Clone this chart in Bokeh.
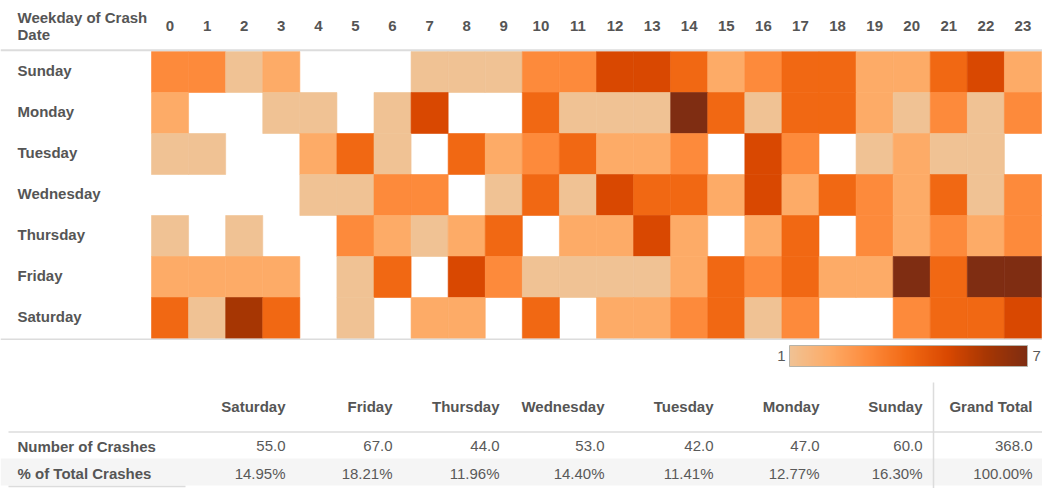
import numpy as np
from bokeh.plotting import figure
from bokeh.layouts import column
from bokeh.models import Range1d, ColumnDataSource, LinearColorMapper, Span
from bokeh.transform import linear_cmap
from bokeh.core.properties import value
from bokeh.embed import file_html
from bokeh.resources import INLINE

# ---------------- data ----------------
hours = list(range(24))
days = ["Sunday", "Monday", "Tuesday", "Wednesday", "Thursday", "Friday", "Saturday"]
header_lines = ["Weekday of Crash", "Date"]

# number of crashes per hour of day (0 = no crashes)
sunday    = [3, 3, 1, 2, 0, 0, 0, 1, 1, 1, 3, 3, 5, 5, 4, 2, 3, 4, 4, 2, 2, 4, 5, 2]
monday    = [2, 0, 0, 1, 1, 0, 1, 5, 0, 0, 4, 1, 1, 1, 7, 4, 1, 4, 4, 2, 1, 3, 1, 3]
tuesday   = [1, 1, 0, 0, 2, 4, 1, 0, 4, 2, 3, 4, 2, 2, 3, 0, 5, 3, 0, 1, 2, 1, 1, 0]
wednesday = [0, 0, 0, 0, 1, 1, 3, 3, 0, 1, 4, 1, 5, 4, 4, 2, 5, 2, 4, 3, 2, 4, 1, 3]
thursday  = [1, 0, 1, 0, 0, 3, 2, 1, 2, 4, 0, 2, 2, 5, 2, 0, 2, 4, 0, 3, 2, 3, 2, 3]
friday    = [2, 2, 2, 2, 0, 1, 4, 0, 5, 3, 1, 1, 1, 1, 2, 4, 3, 4, 2, 2, 7, 4, 7, 7]
saturday  = [4, 1, 6, 4, 0, 1, 0, 2, 2, 0, 4, 0, 2, 2, 3, 4, 1, 3, 0, 0, 3, 4, 4, 5]

level_colors = ["#F0C294", "#FDAB67", "#FD8A3B", "#F16813", "#D94801", "#A63603", "#7F2D12"]
legend_low, legend_high = 1, 7

table_cols = ["Saturday", "Friday", "Thursday", "Wednesday", "Tuesday", "Monday", "Sunday", "Grand Total"]
crashes = [55.0, 67.0, 44.0, 53.0, 42.0, 47.0, 60.0, 368.0]
pct_total = [14.95, 18.21, 11.96, 14.40, 11.41, 12.77, 16.30, 100.00]
row_labels = ["Number of Crashes", "% of Total Crashes"]

# ---------------- styling / layout ----------------
FONT = value("Liberation Sans")
BOLD_C = "#555555"
REG_C = "#595959"
LINE_C = "#dcdcdc"
FS = "15px"

W = 1042
H1 = 341
H2 = 488 - H1
LEFT = 151
CW = (1041 - LEFT) / 24
TOP = 51
RH = 41

x0 = -0.5 - LEFT / CW
p1 = figure(width=W, height=H1,
            x_range=Range1d(x0, 23.5 + 1 / CW),
            y_range=Range1d((H1 - TOP) / RH - 0.5, -0.5 - TOP / RH),
            x_axis_location=None, y_axis_location=None,
            output_backend="svg", toolbar_location=None,
            min_border=0, outline_line_color=None)
p1.grid.visible = False

rows = [sunday, monday, tuesday, wednesday, thursday, friday, saturday]
xs, ys, ns = [], [], []
for di, row in enumerate(rows):
    for h, n in zip(hours, row):
        if n > 0:
            xs.append(h)
            ys.append(di)
            ns.append(n)
src = ColumnDataSource(dict(hour=xs, day=ys, n=ns))
cmap = linear_cmap("n", level_colors, 0.5, 7.5)
p1.rect(x="hour", y="day", width=1, height=1, source=src,
        fill_color=cmap, line_color=cmap, line_width=0.6)

p1.add_layout(Span(location=-0.5 - 1.3 / RH, dimension="width",
                   line_color=LINE_C, line_width=2))
p1.add_layout(Span(location=6.5 + 0.8 / RH, dimension="width",
                   line_color=LINE_C, line_width=1.5))

lab_x = x0 + 17 / CW
p1.text(x=hours, y=[-0.5 - 26 / RH] * 24, text=[str(h) for h in hours],
        text_align="center", text_baseline="middle", text_font=FONT,
        text_font_style="bold", text_font_size=FS, text_color=BOLD_C)
p1.text(x=[lab_x] * 7, y=[i - 1.5 / RH for i in range(7)], text=days,
        text_align="left", text_baseline="middle", text_font=FONT,
        text_font_style="bold", text_font_size=FS, text_color=BOLD_C)
p1.text(x=[lab_x] * 2, y=[-0.5 - 34.5 / RH, -0.5 - 17.5 / RH], text=header_lines,
        text_align="left", text_baseline="middle", text_font=FONT,
        text_font_style="bold", text_font_size=FS, text_color=BOLD_C)

# ---------------- bottom: legend + table ----------------
p2 = figure(width=W, height=H2, x_range=Range1d(0, W), y_range=Range1d(0, H2),
            x_axis_location=None, y_axis_location=None,
            output_backend="svg", toolbar_location=None,
            min_border=0, outline_line_color=None)
p2.grid.visible = False


def Y(py):
    return H2 - py


def interp_palette(stops, n=256):
    rgb = np.array([[int(c[i:i + 2], 16) for i in (1, 3, 5)] for c in stops], float)
    out = []
    for t in np.linspace(0, len(stops) - 1, n):
        i = min(int(t), len(stops) - 2)
        f = t - i
        c = rgb[i] * (1 - f) + rgb[i + 1] * f
        out.append("#%02x%02x%02x" % tuple(int(round(v)) for v in c))
    return out


mapper = LinearColorMapper(palette=interp_palette(level_colors), low=legend_low, high=legend_high)
grad = np.linspace(legend_low, legend_high, 256).reshape(1, -1)
CB_L, CB_R, CB_T, CB_B = 789, 1027, 4, 25
p2.image(image=[grad], x=CB_L, y=Y(CB_B), dw=CB_R - CB_L, dh=CB_B - CB_T, color_mapper=mapper)
p2.quad(left=CB_L, right=CB_R, bottom=Y(CB_B), top=Y(CB_T),
        fill_color=None, line_color="#b5b3aa", line_width=1)
p2.text(x=[CB_L - 4], y=[Y(14.5)], text=[str(legend_low)], text_align="right",
        text_baseline="middle", text_font=FONT, text_font_size=FS, text_color=REG_C)
p2.text(x=[CB_R + 5], y=[Y(14.5)], text=[str(legend_high)], text_align="left",
        text_baseline="middle", text_font=FONT, text_font_size=FS, text_color=REG_C)

# table
col_right = [285, 392, 499, 604, 713, 819, 922, 1032]
p2.quad(left=0, right=W, top=Y(117), bottom=Y(144), fill_color="#f5f5f5", line_color=None)
p2.segment(x0=[8, 8], x1=[W, 185], y0=[Y(90.5), Y(145)], y1=[Y(90.5), Y(145)],
           line_color=LINE_C, line_width=1.5)
p2.segment(x0=[933], x1=[933], y0=[Y(41)], y1=[Y(H2)], line_color=LINE_C, line_width=1.5)

p2.text(x=col_right, y=[Y(64.5)] * 8, text=table_cols, text_align="right",
        text_baseline="middle", text_font=FONT, text_font_style="bold",
        text_font_size=FS, text_color=BOLD_C)
p2.text(x=col_right, y=[Y(104.5)] * 8, text=["%.1f" % v for v in crashes], text_align="right",
        text_baseline="middle", text_font=FONT, text_font_size=FS, text_color=REG_C)
p2.text(x=col_right, y=[Y(131.5)] * 8, text=["%.2f%%" % v for v in pct_total], text_align="right",
        text_baseline="middle", text_font=FONT, text_font_size=FS, text_color=REG_C)
p2.text(x=[17, 17], y=[Y(104.5), Y(131.5)], text=row_labels, text_align="left",
        text_baseline="middle", text_font=FONT, text_font_style="bold",
        text_font_size=FS, text_color=BOLD_C)

layout = column(p1, p2)
open("out.html", "w").write(file_html(layout, INLINE))
